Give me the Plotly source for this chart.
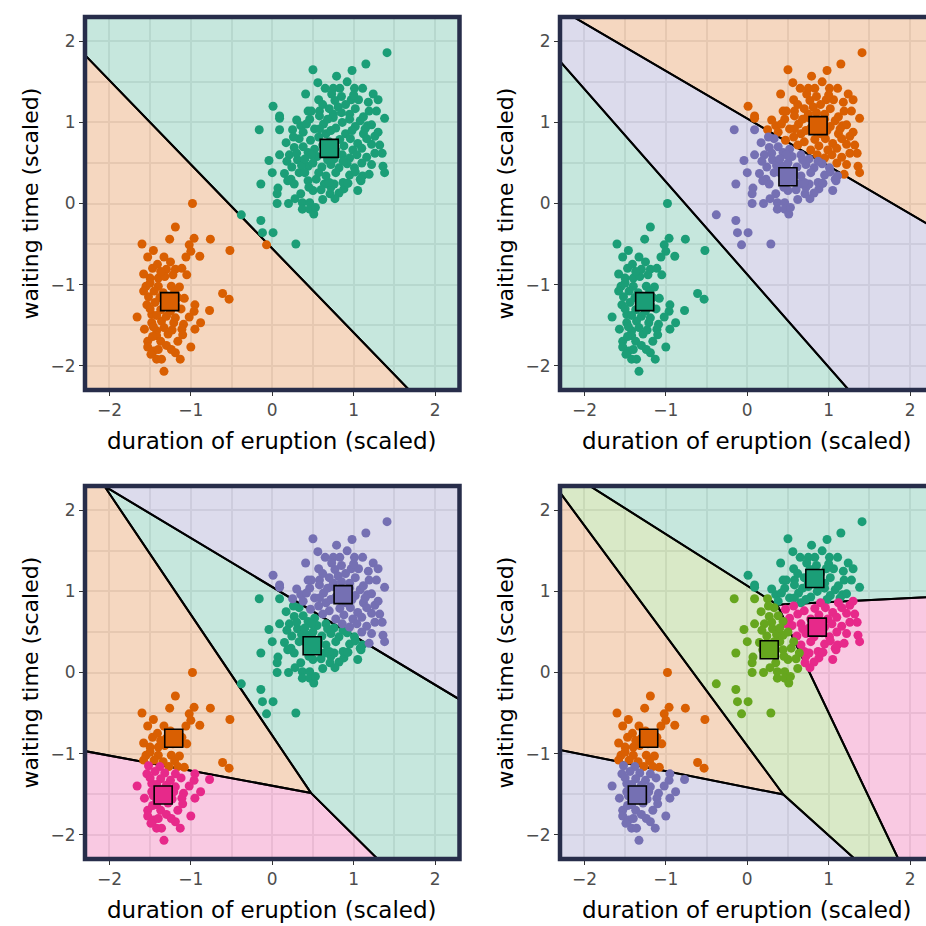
import plotly.graph_objects as go

# ---------------- data (scaled Old Faithful) ----------------
duration_scaled = [
    # short-eruption group
    -0.98, -1.19, -1.60, -1.26, -0.96, -1.02, -0.76, -0.52, -1.46, -1.53,
    -1.33, -1.00, -1.06, -0.89, -1.47, -1.58, -1.30, -1.19, -1.11, -1.05,
    -1.50, -1.40, -1.32, -0.07, -0.61, -0.53, -1.66, -0.95, -0.96, -0.77,
    -1.08, -1.54, -1.48, -1.48, -1.36, -1.19, -1.09, -1.11, -0.95, -1.42,
    -1.42, -1.28, -1.16, -1.53, -1.53, -1.46, -1.00, -1.19, -1.13, -1.42,
    -1.36, -1.33, -1.55, -1.40, -1.24, -1.50, -1.45, -1.34, -1.20, -1.52,
    -1.38, -1.16, -1.44, -1.32, -1.19, -1.50, -1.37, -1.25, -1.12, -1.42,
    -1.30, -1.21, -1.46, -1.33, -1.23, -1.37, -1.30, -1.47, -1.41, -1.25,
    -1.37, -1.22, -1.58, -1.14, -1.27, -1.40, -1.24, -1.49, -1.10, -1.57,
    -1.02, -0.88,
    # long-eruption group
    0.50, 0.41, 0.01, 0.09, 0.44, 1.41, 1.15, 0.98, 0.79, 0.56,
    0.75, 0.83, 0.73, 1.01, 1.11, 1.24, 1.30, 0.97, 1.06, 0.57,
    0.77, 0.81, 0.58, 0.48, 0.75, 0.95, 1.19, 1.28, 0.09, -0.16,
    0.09, 0.25, 0.35, 0.46, 0.17, 0.27, 0.09, -0.04, 0.21, 0.31,
    0.44, 0.44, 0.33, 0.23, -0.14, 0.07, 0.44, 0.06, 0.06, 0.20,
    0.37, 0.46, 0.37, 0.46, 0.51, 0.53, -0.38, -0.14, -0.12, 0.01,
    0.29, 0.50, 0.71, 0.72, 0.76, 0.88, 0.90, 1.05, 1.09, 0.64,
    0.27, 0.19, 1.36, 1.38, 1.22, 1.26, 1.17, 0.95, 0.75, 0.58,
    1.11, 1.19, 0.87, 0.70, 0.54, 0.38, 0.52, 0.63, 0.66, 0.78,
    0.86, 0.90, 1.02, 1.08, 1.12, 0.33, 0.47, 0.57, 0.70, 0.83,
    0.96, 1.05, 1.16, 0.38, 0.52, 0.62, 0.78, 0.88, 0.99, 1.10,
    0.55, 0.66, 0.76, 0.86, 0.95, 1.04, 1.16, 1.26, 0.36, 0.50,
    0.61, 0.72, 0.82, 0.92, 1.01, 1.10, 1.22, 0.40, 0.57, 0.66,
    0.78, 0.95, 1.02, 0.45, 0.60, 0.82, 0.35, 0.62, 0.70, 0.90,
    1.02, 1.12, 0.68, 0.85, 1.22, 1.30, 0.42, 0.26, 0.30, 1.32,
    0.98, 0.72, 0.58, 0.87, 0.68, 1.08, 0.48, 0.93, 0.24, 0.15,
    0.85, 0.65, 0.92, 1.18, 1.38, 1.35, 0.62, 0.77, 0.28, 0.00,
    1.14, 0.40, 0.18, 0.30, 1.00,
]
waiting_scaled = [
    0.00, -0.29, -0.50, -0.44, -0.43, -0.51, -0.44, -0.58, -0.58, -0.66,
    -0.66, -0.59, -0.66, -0.65, -0.80, -0.87, -0.81, -0.81, -0.80, -0.88,
    -0.92, -0.92, -0.90, -0.51, -1.11, -1.18, -1.40, -1.25, -1.33, -1.32,
    -1.17, -1.25, -1.37, -1.47, -1.45, -1.41, -1.49, -1.55, -1.55, -1.57,
    -1.63, -1.61, -1.70, -1.70, -1.77, -1.82, -1.77, -1.84, -1.92, -1.92,
    -1.92, -2.07, -1.02, -1.02, -1.02, -0.98, -1.08, -1.10, -1.09, -1.15,
    -1.16, -1.16, -1.22, -1.24, -1.25, -1.30, -1.31, -1.33, -1.30, -1.38,
    -1.39, -1.47, -1.52, -1.53, -1.56, -1.70, -1.75, -1.64, -0.75, -0.72,
    -0.84, -0.88, -1.08, -1.03, -1.16, -1.80, -1.80, -1.86, -1.62, -1.55,
    -1.40, -1.47,
    1.65, 1.35, 1.20, 1.08, 1.14, 1.86, 1.72, 1.64, 1.57, 1.49,
    1.42, 1.42, 1.35, 1.42, 1.42, 1.35, 1.28, 1.28, 1.28, 1.28,
    1.27, 1.19, 1.14, 1.14, 1.10, 1.10, 1.14, 1.14, 1.05, 0.91,
    0.91, 0.91, 0.96, 1.04, 0.75, 0.69, 0.60, 0.53, 0.60, 0.54,
    0.63, 0.46, 0.38, 0.30, 0.24, 0.19, 0.28, 0.12, 0.00, 0.00,
    0.01, 0.01, -0.07, -0.07, -0.13, -0.05, -0.14, -0.21, -0.36, -0.36,
    -0.50, 0.16, 0.12, 0.20, 0.24, 0.18, 0.24, 0.16, 0.28, 0.24,
    0.24, 0.28, 0.46, 0.38, 0.73, 0.83, 0.96, 1.04, 1.06, 1.08,
    0.34, 0.36, 0.26, 0.26, 0.30, 0.88, 0.92, 0.98, 0.86, 0.93,
    1.00, 0.86, 0.95, 1.02, 0.86, 0.80, 0.78, 0.82, 0.76, 0.79,
    0.80, 0.74, 0.80, 0.70, 0.67, 0.72, 0.66, 0.71, 0.66, 0.68,
    0.58, 0.60, 0.55, 0.60, 0.56, 0.60, 0.57, 0.62, 0.47, 0.50,
    0.45, 0.48, 0.44, 0.49, 0.44, 0.50, 0.48, 0.38, 0.38, 0.34,
    0.38, 0.35, 0.39, 0.20, 0.17, 0.13, 0.12, 1.22, 1.17, 1.22,
    1.17, 1.07, 1.04, 1.12, 0.97, 0.88, 0.98, 0.82, 0.62, 0.72,
    0.90, 0.90, 0.92, 0.52, 0.54, 0.30, 0.60, 0.25, 0.45, 0.37,
    1.32, 1.42, 1.50, 1.25, 1.05, 0.62, 0.05, 0.06, 0.06, 0.38,
    0.92, 0.55, 0.52, 1.03, 1.34,
]

# cluster centres for k = 2, 3, 4, 5 (as drawn), with their colour index
centers_k2_x = [0.70, -1.26]
centers_k2_y = [0.68, -1.21]
centers_k3_x = [-1.26, 0.87, 0.50]
centers_k3_y = [-1.21, 0.96, 0.33]
centers_k4_x = [0.49, -1.21, 0.87, -1.34]
centers_k4_y = [0.33, -0.81, 0.96, -1.51]
centers_k5_x = [0.83, -1.21, -1.35, 0.86, 0.27]
centers_k5_y = [1.16, -0.81, -1.51, 0.56, 0.28]

palette = ["#1B9E77", "#D95F02", "#7570B3", "#E7298A", "#66A61E"]
region_fill = ["rgba(27,158,119,0.25)", "rgba(217,95,2,0.25)", "rgba(117,112,179,0.25)",
               "rgba(231,41,138,0.25)", "rgba(102,166,30,0.25)"]

x_tick_vals = [-2, -1, 0, 1, 2]
y_tick_vals = [-2, -1, 0, 1, 2]
x_title = "duration of eruption (scaled)"
y_title = "waiting time (scaled)"

# ---------------- layout geometry (pixels of a 926 x 926 canvas) ----------------
W = H = 926
col_px = [(85.0, 459.5), (560.0, 926.0)]
row_px = [(17.0, 390.0), (486.0, 859.0)]
unit = (459.5 - 85.0) / 4.6
LO = -2.3
border_col = "#272D4A"
font_fam = "DejaVu Sans, Liberation Sans, Arial, sans-serif"


def clip(poly, a, b, c):
    out = []
    n = len(poly)
    for i in range(n):
        P, Q = poly[i], poly[(i + 1) % n]
        fp = a * P[0] + b * P[1] - c
        fq = a * Q[0] + b * Q[1] - c
        if fp <= 0:
            out.append(P)
        if fp * fq < 0:
            t = fp / (fp - fq)
            out.append((P[0] + t * (Q[0] - P[0]), P[1] + t * (Q[1] - P[1])))
    return out


def voronoi_cell(cx, cy, i):
    poly = [(-6, -6), (6, -6), (6, 6), (-6, 6)]
    for j in range(len(cx)):
        if j == i:
            continue
        a = 2 * (cx[j] - cx[i])
        b = 2 * (cy[j] - cy[i])
        c = cx[j] ** 2 + cy[j] ** 2 - cx[i] ** 2 - cy[i] ** 2
        poly = clip(poly, a, b, c)
    return poly


fig = go.Figure()

panels = [
    (centers_k2_x, centers_k2_y, 0, 0),
    (centers_k3_x, centers_k3_y, 0, 1),
    (centers_k4_x, centers_k4_y, 1, 0),
    (centers_k5_x, centers_k5_y, 1, 1),
]

annotations = []
shapes = []
for p, (cx, cy, r, c) in enumerate(panels):
    ax = "" if p == 0 else str(p + 1)
    xa, ya = "x" + ax, "y" + ax
    # regions
    for i in range(len(cx)):
        poly = voronoi_cell(cx, cy, i)
        fig.add_trace(go.Scatter(
            x=[q[0] for q in poly] + [poly[0][0]], y=[q[1] for q in poly] + [poly[0][1]],
            mode="lines", fill="toself", fillcolor=region_fill[i],
            line=dict(color="black", width=2), hoverinfo="skip", showlegend=False,
            xaxis=xa, yaxis=ya))
    # points by nearest centre
    for i in range(len(cx)):
        px_, py_ = [], []
        for xv, yv in zip(duration_scaled, waiting_scaled):
            d = [(xv - cx[k]) ** 2 + (yv - cy[k]) ** 2 for k in range(len(cx))]
            if d.index(min(d)) == i:
                px_.append(xv)
                py_.append(yv)
        fig.add_trace(go.Scatter(x=px_, y=py_, mode="markers",
                                 marker=dict(size=9, color=palette[i], line=dict(width=0)),
                                 showlegend=False, xaxis=xa, yaxis=ya))
    for i in range(len(cx)):
        fig.add_trace(go.Scatter(x=[cx[i]], y=[cy[i]], mode="markers",
                                 marker=dict(symbol="square", size=18, color=palette[i],
                                             line=dict(color="black", width=1.6)),
                                 showlegend=False, xaxis=xa, yaxis=ya))

    x0p, x1p = col_px[c]
    y0p, y1p = row_px[r]
    xr = [LO, LO + (x1p - x0p) / unit]
    common = dict(
        showgrid=True, gridcolor="#EBEBEB", gridwidth=1.5,
        tickmode="array", ticks="outside", ticklen=5, tickwidth=1.3, tickcolor="#333333",
        tickfont=dict(size=17, color="#4D4D4D", family=font_fam),
        minor=dict(dtick=0.5, tick0=0, showgrid=True, gridcolor="#EBEBEB", gridwidth=1.5, ticks=""),
        zeroline=False, showline=False, automargin=False, fixedrange=True,
    )
    fig.layout["xaxis" + ax] = dict(common, domain=[x0p / W, x1p / W], range=xr,
                                     tickvals=x_tick_vals, anchor=ya)
    fig.layout["yaxis" + ax] = dict(common, domain=[1 - y1p / H, 1 - y0p / H], range=[-2.3, 2.3],
                                     tickvals=y_tick_vals, anchor=xa)
    # border
    shapes.append(dict(type="rect", xref="paper", yref="paper", layer="above",
                       x0=x0p / W, x1=(x1p / W if c == 0 else 1.05),
                       y0=1 - y1p / H, y1=1 - y0p / H,
                       line=dict(color=border_col, width=4.5), fillcolor="rgba(0,0,0,0)"))
    # axis titles
    xc = ((x0p + (x0p + 4.6 * unit)) / 2) / W
    annotations.append(dict(text=x_title, xref="paper", yref="paper", x=xc, y=1 - (y1p + 51) / H,
                            xanchor="center", yanchor="middle", showarrow=False,
                            font=dict(size=23, color="black", family=font_fam)))
    annotations.append(dict(text=y_title, xref="paper", yref="paper", x=(x0p - 55) / W,
                            y=1 - ((y0p + y1p) / 2) / H, textangle=-90,
                            xanchor="center", yanchor="middle", showarrow=False,
                            font=dict(size=22, color="black", family=font_fam)))

fig.update_layout(
    width=W, height=H, margin=dict(l=0, r=0, t=0, b=0),
    paper_bgcolor="white", plot_bgcolor="white",
    shapes=shapes, annotations=annotations, showlegend=False,
)

fig.write_html("out.html", config={"displayModeBar": False},
               post_script="document.body.style.margin='0';")
